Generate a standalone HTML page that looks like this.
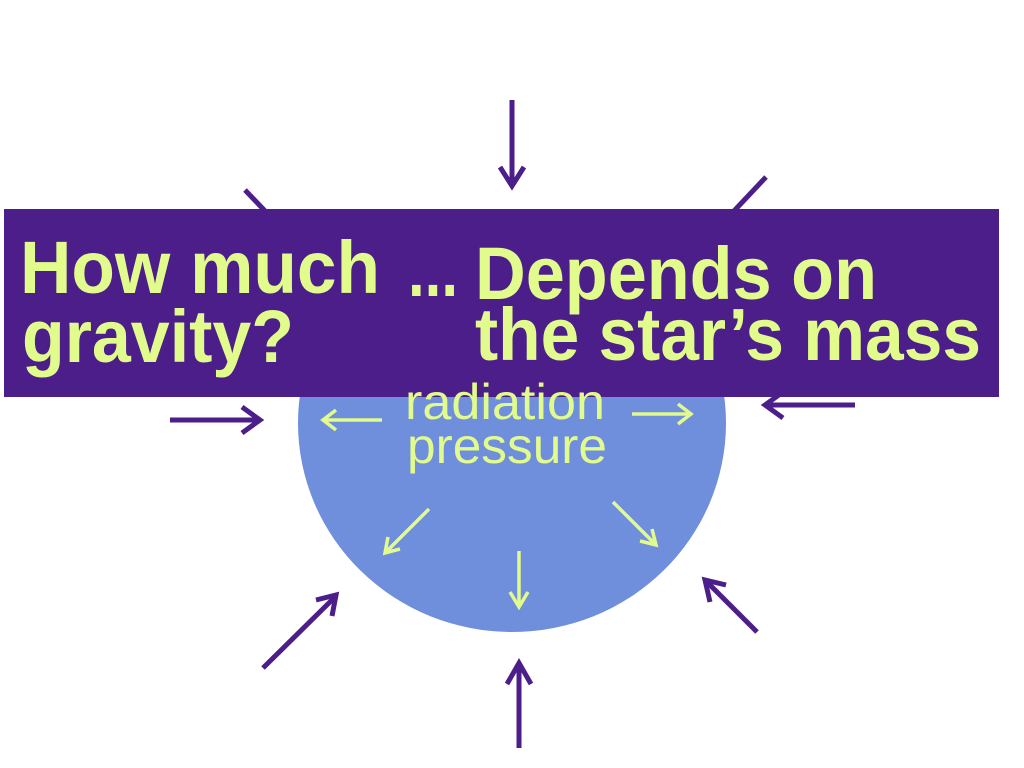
<!DOCTYPE html>
<html><head><meta charset="utf-8"><style>
html,body{margin:0;padding:0;background:#fff;width:1024px;height:768px;overflow:hidden}
svg{display:block}
</style></head><body>
<svg width="1024" height="768" viewBox="0 0 1024 768">
<g>
<ellipse cx="512" cy="423" rx="214" ry="209" fill="#6f8fdd"/>
</g>
<g fill="none" stroke="#4c1e8a" stroke-width="5" stroke-linecap="butt">
<g><line x1="512" y1="100" x2="512" y2="184"/><polyline points="500,167 512,186 524,167"/></g>
<g><line x1="519" y1="748" x2="519" y2="664"/><polyline points="507,684 519,663 531,684"/></g>
<g><line x1="170" y1="420" x2="259" y2="420"/><polyline points="242,407 260,420 242,433"/></g>
<g><line x1="855" y1="405" x2="766" y2="405"/><polyline points="783,392 765,405 783,418"/></g>
<g><line x1="263" y1="668" x2="335" y2="597"/><polyline points="316,600 336,595 332,616"/></g>
<g><line x1="757" y1="632" x2="706" y2="581"/><polyline points="710,602 705,580 726,585"/></g>
<g><line x1="245" y1="190" x2="266" y2="212"/></g>
<g><line x1="766" y1="177" x2="733" y2="212"/></g>
</g>
<g>
<rect x="4" y="209" width="995" height="188" fill="#4c1e8a"/>
<g fill="#e1fb8c" font-family="'Liberation Sans', sans-serif" font-weight="bold" font-size="74">
<text x="20" y="293" textLength="360" lengthAdjust="spacingAndGlyphs">How much</text>
<text x="22" y="362" textLength="272" lengthAdjust="spacingAndGlyphs">gravity?</text>
<text x="408" y="296" textLength="50" lengthAdjust="spacingAndGlyphs">...</text>
<text x="475" y="299" textLength="402" lengthAdjust="spacingAndGlyphs">Depends on</text>
<text x="475" y="360" textLength="506" lengthAdjust="spacingAndGlyphs">the star’s mass</text>
</g>
</g>
<g fill="#e1fb8c" font-family="'Liberation Sans', sans-serif" font-size="50">
<text x="405" y="419" textLength="200" lengthAdjust="spacingAndGlyphs">radiation</text>
<text x="407" y="463" textLength="200" lengthAdjust="spacingAndGlyphs">pressure</text>
</g>
<g fill="none" stroke="#e1fb8c" stroke-width="3.5">
<g><line x1="382" y1="420" x2="324" y2="420"/><polyline points="336,410 323,420 336,430"/></g>
<g><line x1="632" y1="414" x2="690" y2="414"/><polyline points="678,404 691,414 678,424"/></g>
<g><line x1="429" y1="509" x2="386" y2="552"/><polyline points="388,537 385,553 400,549"/></g>
<g><line x1="519" y1="551" x2="519" y2="606"/><polyline points="510,592 519,607 528,592"/></g>
<g><line x1="613" y1="502" x2="655" y2="544"/><polyline points="640,541 656,545 652,529"/></g>
</g>
</svg>
</body></html>
